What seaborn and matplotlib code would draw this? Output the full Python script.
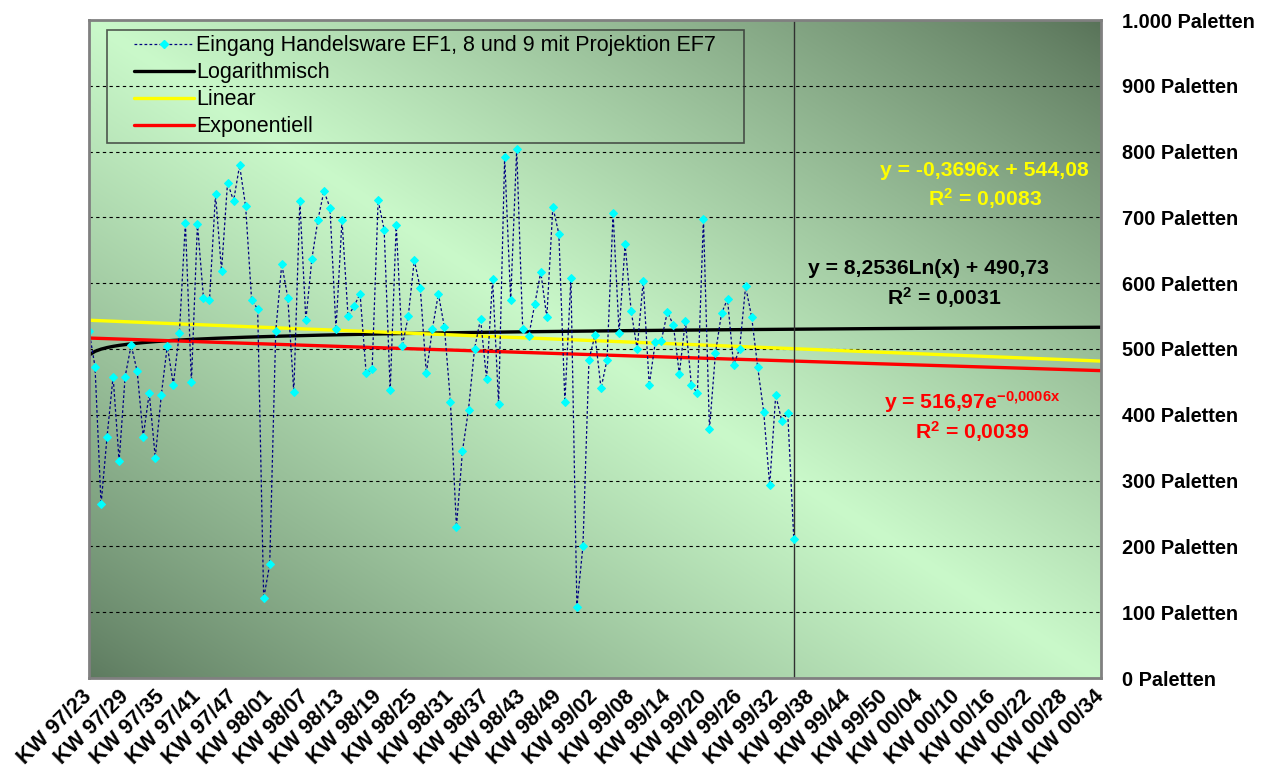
import numpy as np
import pandas as pd
import matplotlib
matplotlib.use("Agg")
import matplotlib.pyplot as plt
import seaborn as sns
from matplotlib.lines import Line2D
from matplotlib.legend_handler import HandlerLine2D
from datetime import date, timedelta

# Weekly incoming pallets (KW 97/23 .. KW 99/38)
pallets = [
    528, 473, 264, 367, 458, 330, 458, 506, 466, 367,
    433, 335, 430, 505, 446, 524, 692, 450, 690, 578,
    574, 735, 619, 753, 725, 779, 717, 574, 561, 121,
    173, 527, 629, 578, 434, 725, 544, 637, 696, 740,
    715, 530, 696, 550, 565, 584, 464, 469, 726, 681,
    437, 689, 504, 550, 635, 592, 463, 530, 584, 533,
    420, 230, 345, 408, 500, 546, 454, 606, 416, 792,
    574, 804, 530, 520, 568, 617, 548, 716, 675, 420,
    608, 108, 201, 484, 521, 440, 484, 706, 525, 659,
    558, 500, 603, 445, 510, 512, 556, 537, 462, 543,
    445, 433, 698, 378, 494, 554, 576, 476, 500, 595,
    549, 473, 405, 293, 430, 391, 402, 211,
]

# Calendar weeks on the category axis (ISO weeks, KW 97/23 .. KW 00/34)
first_monday = date.fromisocalendar(1997, 23, 1)
n_weeks = 169
week_labels = []
for i in range(n_weeks):
    y, w, _ = (first_monday + timedelta(weeks=i)).isocalendar()
    week_labels.append(f"KW {y % 100:02d}/{w:02d}")

tick_labels = [
    "KW 97/23", "KW 97/29", "KW 97/35", "KW 97/41", "KW 97/47",
    "KW 98/01", "KW 98/07", "KW 98/13", "KW 98/19", "KW 98/25",
    "KW 98/31", "KW 98/37", "KW 98/43", "KW 98/49", "KW 99/02",
    "KW 99/08", "KW 99/14", "KW 99/20", "KW 99/26", "KW 99/32",
    "KW 99/38", "KW 99/44", "KW 99/50", "KW 00/04", "KW 00/10",
    "KW 00/16", "KW 00/22", "KW 00/28", "KW 00/34",
]

# Trend line coefficients (x = 1-based week number)
lin_slope, lin_icpt = -0.3696, 544.08
log_coef, log_icpt = 8.2536, 490.73
exp_coef, exp_rate = 516.97, -0.0006

series_name = "Eingang Handelsware EF1, 8 und 9 mit Projektion EF7"

sns.set_theme(style="white")
plt.rcParams["font.family"] = ["Liberation Sans", "DejaVu Sans"]
plt.rcParams["text.color"] = "black"
plt.rcParams["xtick.color"] = "black"
plt.rcParams["ytick.color"] = "black"
plt.rcParams["mathtext.fontset"] = "custom"
plt.rcParams["mathtext.rm"] = "Liberation Sans"
plt.rcParams["mathtext.bf"] = "Liberation Sans:bold"
plt.rcParams["mathtext.it"] = "Liberation Sans:italic"

W, H = 1261, 782
fig = plt.figure(figsize=(W / 100, H / 100), dpi=100)
fig.patch.set_facecolor("white")
x0, x1, y0, y1 = 89, 1101, 20, 678
ax = fig.add_axes([x0 / W, 1 - y1 / H, (x1 - x0) / W, (y1 - y0) / H])

# Diagonal two-tone gradient: dark corners bottom-left / top-right, light band between
gx, gy = np.meshgrid(np.linspace(0, 1, 300), np.linspace(0, 1, 300))
t = (gx + gy) / 2
s = 1 - np.abs(2 * t - 1)
dark_bl = np.array([93, 122, 95]) / 255
dark_tr = np.array([88, 114, 88]) / 255
light = np.array([202, 249, 202]) / 255
dark = np.where((t < 0.5)[..., None], dark_bl, dark_tr)
img = dark + (light - dark) * (s[..., None] ** 0.85)
ax.imshow(img, extent=[0, 1, 0, 1], transform=ax.transAxes, aspect="auto",
          origin="lower", zorder=0, interpolation="bilinear")

pos = np.arange(n_weeks)
xn = pos + 1
trend = pd.DataFrame({
    "pos": pos,
    "log": log_coef * np.log(xn) + log_icpt,
    "lin": lin_slope * xn + lin_icpt,
    "exp": exp_coef * np.exp(exp_rate * xn),
})
data = pd.DataFrame({
    "pos": pos[: len(pallets)],
    "week": week_labels[: len(pallets)],
    "pallets": pallets,
})

sns.lineplot(data=trend, x="pos", y="log", ax=ax, color="black", lw=2.4, zorder=3)
sns.lineplot(data=trend, x="pos", y="lin", ax=ax, color="#ffff00", lw=2.4, zorder=3)
sns.lineplot(data=trend, x="pos", y="exp", ax=ax, color="#ff0000", lw=2.4, zorder=3)
sns.lineplot(data=data, x="pos", y="pallets", ax=ax, color="#000080", lw=0.9,
             linestyle=(0, (2.2, 1.8)), marker="D", markersize=3.8,
             markerfacecolor="#00ffff", markeredgecolor="#00ffff",
             errorbar=None, zorder=5)

ax.axvline(len(pallets) - 1, color="#303030", lw=1.0, zorder=4)

ax.set_xlim(0, n_weeks - 1)
ax.set_ylim(0, 1000)
ax.set_xlabel("")
ax.set_ylabel("")

yt = list(range(0, 1001, 100))
ax.set_yticks(yt)
ax.set_yticklabels([f"{v:,}".replace(",", ".") + " Paletten" for v in yt],
                   fontweight="bold", fontsize=14.3, color="black")
ax.yaxis.tick_right()
ax.tick_params(axis="y", length=0, pad=15)

ax.set_xticks(range(0, n_weeks, 6))
ax.set_xticklabels(tick_labels, rotation=45, ha="right", va="center",
                   rotation_mode="anchor", fontweight="bold", fontsize=15.5,
                   color="black")
ax.tick_params(axis="x", length=0, pad=11)

ax.grid(False)
for v in yt[1:-1]:
    ax.axhline(v, color="black", lw=0.8, linestyle=(0, (3, 3)), zorder=1)

for sp in ax.spines.values():
    sp.set_color("#808080")
    sp.set_linewidth(2)
    sp.set_zorder(6)

handles = [
    Line2D([], [], color="#000080", lw=0.9, linestyle=(0, (2.2, 1.8)), marker="D",
           markersize=3.8, markerfacecolor="#00ffff", markeredgecolor="#00ffff"),
    Line2D([], [], color="black", lw=2.4),
    Line2D([], [], color="#ffff00", lw=2.4),
    Line2D([], [], color="#ff0000", lw=2.4),
]
aw, ah = x1 - x0, y1 - y0
leg = ax.legend(handles, [series_name, "Logarithmisch", "Linear", "Exponentiell"],
                loc="upper left",
                bbox_to_anchor=((107 - x0) / aw, (y1 - 138) / ah, (744 - 107) / aw, 108 / ah),
                mode="expand", borderaxespad=0, frameon=True, fancybox=False,
                fontsize=15.5, handlelength=3.8, handletextpad=0.1,
                labelspacing=0.28, borderpad=0.25, numpoints=1,
                handler_map={Line2D: HandlerLine2D(xpad=1.0)})
leg.get_frame().set_facecolor("none")
leg.get_frame().set_edgecolor("#303030")
leg.get_frame().set_linewidth(1.2)
leg.set_zorder(7)
for txt in leg.get_texts():
    txt.set_color("black")

def ftext(px, py, s, color):
    fig.text(px / W, 1 - py / H, s, color=color, fontweight="bold", fontsize=15.2,
             ha="center", va="center")

ftext(984, 170, "y = -0,3696x + 544,08", "#ffff00")
ftext(985, 199, r"R$^{\mathbf{2}}$ = 0,0083", "#ffff00")
ftext(928, 268, "y = 8,2536Ln(x) + 490,73", "black")
ftext(944, 298, r"R$^{\mathbf{2}}$ = 0,0031", "black")
ftext(972, 402, r"y = 516,97e$^{\mathbf{-0{,}0006x}}$", "#ff0000")
ftext(972, 432, r"R$^{\mathbf{2}}$ = 0,0039", "#ff0000")

fig.savefig("out.png", dpi=100, facecolor="white")
